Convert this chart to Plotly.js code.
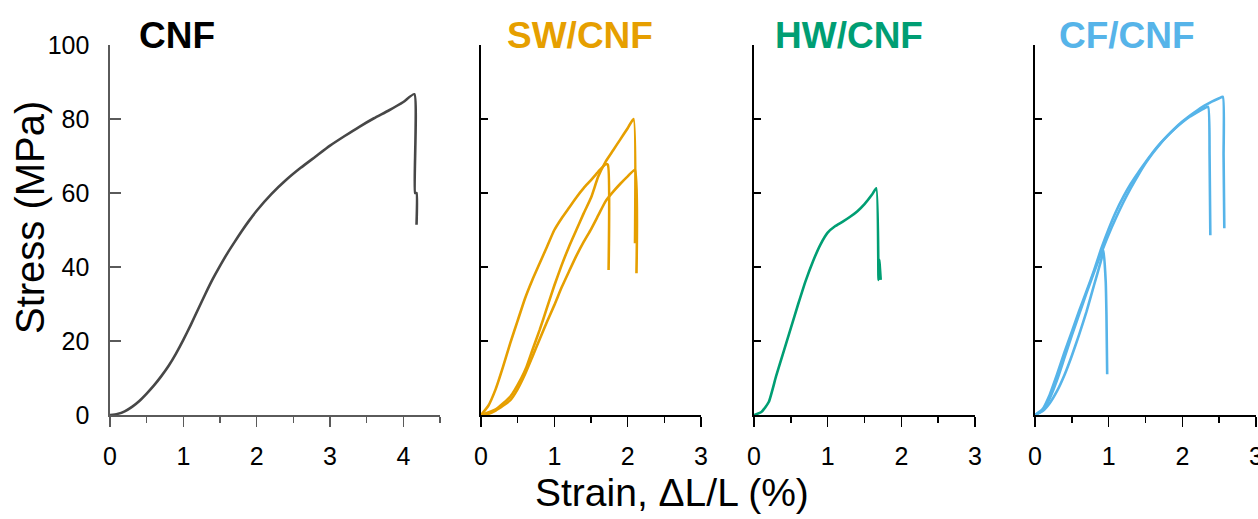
<!DOCTYPE html>
<html>
<head>
<meta charset="utf-8">
<script src="https://cdn.plot.ly/plotly-3.0.1.min.js"></script>
<style>html,body{margin:0;padding:0;background:#fff;}#chart{width:1258px;height:519px;}</style>
</head>
<body>
<div id="chart"></div>
<script>
// ---- data (strain %, stress MPa) ----
const panelTitles = ["CNF", "SW/CNF", "HW/CNF", "CF/CNF"];
const xTickVals = [0, 1, 2, 3, 4];
const yTickVals = [0, 20, 40, 60, 80, 100];

const cnfStrain = [0,0.1,0.2,0.3,0.4,0.5,0.6,0.7,0.8,0.9,1.0,1.1,1.2,1.3,1.4,1.5,1.6,1.7,1.8,1.9,2.0,2.2,2.4,2.6,2.8,3.0,3.2,3.4,3.6,3.8,4.0,4.15,4.16,4.18,4.18];
const cnfStress = [0,0.3,1.0,2.2,3.8,5.8,8.0,10.5,13.3,16.6,20.3,24.3,28.5,32.7,36.7,40.3,43.7,46.8,49.8,52.6,55.2,59.7,63.5,66.8,69.8,72.8,75.4,77.9,80.2,82.3,84.6,86.7,60,60,51.4];

const swAStrain = [0,0.1,0.2,0.3,0.4,0.5,0.6,0.7,0.8,0.9,1.0,1.1,1.2,1.3,1.4,1.5,1.6,1.7,1.73,1.74];
const swAStress = [0,2.5,7,13,19.5,25.5,31.5,36.5,41,45.5,50,53.2,56,58.8,61.3,63.5,65.8,67.8,67.6,39.2];
const swBStrain = [0,0.2,0.4,0.55,0.62,0.7,0.8,0.9,1.0,1.1,1.2,1.3,1.4,1.5,1.6,1.7,1.8,1.9,2.0,2.08,2.1];
const swBStress = [0,1.5,5,10,13,17.5,23,29,35,40.5,45.5,50,54.5,58.7,64.5,68.5,71.5,74.5,77.5,80,46.4];
const swCStrain = [0,0.1,0.2,0.3,0.4,0.5,0.6,0.7,0.8,0.9,1.0,1.1,1.2,1.3,1.4,1.5,1.6,1.7,1.8,1.9,2.0,2.1,2.12];
const swCStress = [0,0.3,1.2,2.5,4,7,11,15.7,20.5,25.2,29.7,34.5,38.8,43,46.8,50.2,54,57.8,60.3,62.5,64.5,66.3,38.3];

const hwStrain = [0,0.1,0.2,0.3,0.4,0.5,0.6,0.7,0.8,0.9,1.0,1.1,1.2,1.3,1.4,1.5,1.6,1.66,1.69,1.70,1.72];
const hwStress = [0,0.8,3.5,10.5,17,23.5,30,36.2,41.5,46,49.3,51,52.2,53.5,55,57,59.5,61.3,36.5,42,36.5];

const cfDStrain = [0,0.1,0.2,0.3,0.4,0.5,0.6,0.7,0.8,0.9,0.93,0.96,0.97,0.98];
const cfDStress = [0,1.0,3.2,6.5,10.8,16,21.8,28,35,42,44.5,36,27,11];
const cfEStrain = [0,0.1,0.2,0.3,0.4,0.5,0.6,0.7,0.8,0.9,1.0,1.1,1.2,1.3,1.4,1.5,1.6,1.7,1.8,1.9,2.0,2.1,2.2,2.3,2.35,2.37,2.38];
const cfEStress = [0,1.5,5.5,11,17,22.5,28.2,33.5,39,45,50.3,55,59,62.5,65.5,68.3,71,73.4,75.5,77.4,79.1,80.6,81.8,82.9,83.3,70,48.6];
const cfFStrain = [0,0.1,0.2,0.3,0.4,0.5,0.6,0.7,0.8,0.9,1.0,1.1,1.2,1.3,1.4,1.5,1.6,1.7,1.8,1.9,2.0,2.1,2.2,2.3,2.4,2.5,2.55,2.56,2.57];
const cfFStress = [0,1.2,4.5,9.5,15.5,21.5,27.3,33,38.5,43.8,48.8,53.3,57.5,61.3,64.8,68,70.8,73.3,75.5,77.5,79.3,80.9,82.3,83.6,84.7,85.6,86,70,50.5];

const colors = {cnf: "#474747", sw: "#E69F00", hw: "#009E73", cf: "#56B4E9"};
const titleColors = ["#000000", colors.sw, colors.hw, colors.cf];

function tr(x, y, c, ax) {
  return {x: x, y: y, type: "scatter", mode: "lines",
          line: {color: c, width: 2.6, shape: "spline", smoothing: 0.5},
          xaxis: "x" + ax, yaxis: "y" + ax, hoverinfo: "skip", showlegend: false};
}
const data = [
  tr(cnfStrain, cnfStress, colors.cnf, ""),
  tr(swAStrain, swAStress, colors.sw, "2"),
  tr(swBStrain, swBStress, colors.sw, "2"),
  tr(swCStrain, swCStress, colors.sw, "2"),
  tr(hwStrain, hwStress, colors.hw, "3"),
  tr(cfDStrain, cfDStress, colors.cf, "4"),
  tr(cfEStrain, cfEStress, colors.cf, "4"),
  tr(cfFStrain, cfFStress, colors.cf, "4"),
];
data[0].xaxis = "x"; data[0].yaxis = "y";

const W = 1258, H = 519;
const yDom = [(H - 415) / H, (H - 45) / H];
const xDoms = [[110 / W, 440 / W], [481 / W, 701 / W], [754 / W, 975 / W], [1035 / W, 1256 / W]];
const xRanges = [[0, 4.5], [0, 3], [0, 3], [0, 3]];
const font = "Liberation Sans, Arial, sans-serif";

const layout = {
  width: W, height: H, margin: {l: 0, r: 0, t: 0, b: 0},
  paper_bgcolor: "#ffffff", plot_bgcolor: "rgba(0,0,0,0)",
  font: {family: font, color: "#000"},
  showlegend: false,
  annotations: []
};
for (let i = 0; i < 4; i++) {
  const s = i === 0 ? "" : String(i + 1);
  const axc = i === 0 ? "#5a5a5a" : "#000000";
  layout["xaxis" + s] = {
    domain: xDoms[i], range: xRanges[i], anchor: "y" + s,
    showgrid: false, zeroline: false, showline: true, linecolor: axc, linewidth: 1.6,
    ticks: "outside", ticklen: 10, tickwidth: 1.6, tickcolor: axc,
    tickvals: xTickVals, ticktext: xTickVals.map(String),
    minor: {dtick: 0.5, tick0: 0, ticks: "outside", ticklen: 6, tickwidth: 1.6, tickcolor: axc, showgrid: false},
    tickfont: {family: font, size: 25, color: "#000"}, ticklabelstandoff: 8,
    ticklabeloverflow: "allow",
    fixedrange: true
  };
  layout["yaxis" + s] = {
    domain: yDom, range: [0, 100], anchor: "x" + s,
    showgrid: false, zeroline: false, showline: true, linecolor: axc, linewidth: 1.6,
    ticks: "inside", ticklen: i === 0 ? 11 : 7, tickwidth: 1.6, tickcolor: axc,
    tickvals: yTickVals, showticklabels: i === 0,
    tickfont: {family: font, size: 25, color: "#000"}, ticklabelstandoff: 14,
    fixedrange: true
  };
}
const titleLeft = [137, 505, 773, 1057];
for (let i = 0; i < 4; i++) {
  layout.annotations.push({
    text: "<b>" + panelTitles[i] + "</b>", xref: "paper", yref: "paper",
    x: titleLeft[i] / W, y: (H - 36) / H, xanchor: "left", yanchor: "middle",
    showarrow: false, font: {family: font, size: 37, color: titleColors[i]}
  });
}
layout.annotations.push({
  text: "Stress (MPa)", xref: "paper", yref: "paper", x: 30 / W, y: (H - 218) / H,
  xanchor: "center", yanchor: "middle", textangle: -90, showarrow: false,
  font: {family: font, size: 40, color: "#000"}
});
layout.annotations.push({
  text: "Strain, \u0394L/L (%)", xref: "paper", yref: "paper", x: 672 / W, y: (H - 492) / H,
  xanchor: "center", yanchor: "middle", showarrow: false,
  font: {family: font, size: 39, color: "#000"}
});

Plotly.newPlot("chart", data, layout, {displayModeBar: false, staticPlot: true});
</script>
</body>
</html>
